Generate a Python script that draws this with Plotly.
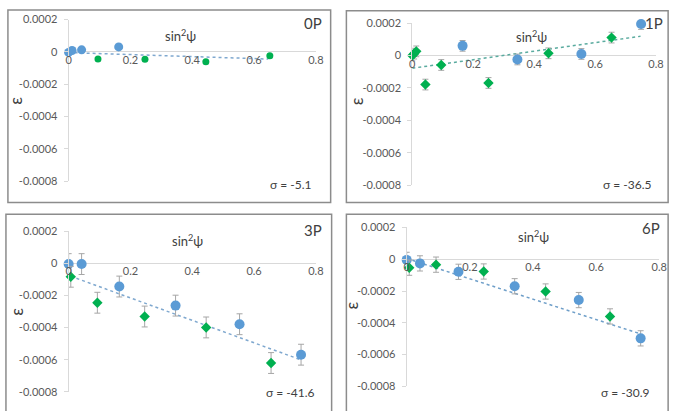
import plotly.graph_objects as go

W, H = 684, 411

# ---------------- data ----------------
panels = ["0P", "1P", "3P", "6P"]
sigma_labels = ["σ = -5.1", "σ = -36.5", "σ = -41.6", "σ = -30.9"]

blue_x_0P = [0, 0.011, 0.042, 0.162]
blue_y_0P = [-0.000003, 0.000009, 0.000013, 0.000031]
green_x_0P = [0.095, 0.247, 0.444, 0.651]
green_y_0P = [-0.000044, -0.000046, -0.00006, -0.000024]
err_0P = 0.0
trend_x_0P = [0, 0.646]
trend_y_0P = [-0.000004, -0.000044]

blue_x_1P = [0.165, 0.345, 0.555, 0.751]
blue_y_1P = [0.00006, -0.000024, 0.00001, 0.000195]
green_x_1P = [0, 0.006, 0.013, 0.043, 0.095, 0.25, 0.447, 0.654]
green_y_1P = [0, 0.000012, 0.000026, -0.000179, -0.000058, -0.000169, 0.000014, 0.000111]
err_1P = 0.000033
trend_x_1P = [0, 0.749]
trend_y_1P = [-0.000078, 0.000119]

blue_x_3P = [0, 0.042, 0.164, 0.346, 0.553, 0.752]
blue_y_3P = [-0.000004, -0.000004, -0.000144, -0.000263, -0.000379, -0.000569]
green_x_3P = [0.007, 0.093, 0.246, 0.445, 0.655]
green_y_3P = [-0.000083, -0.000245, -0.000331, -0.000399, -0.000621]
err_3P = 0.000065
trend_x_3P = [0.007, 0.75]
trend_y_3P = [-0.00008, -0.0006]

blue_x_6P = [0, 0.042, 0.164, 0.342, 0.545, 0.741]
blue_y_6P = [-0.000004, -0.000026, -0.000079, -0.00017, -0.000257, -0.000498]
green_x_6P = [0.008, 0.093, 0.244, 0.44, 0.644]
green_y_6P = [-0.000053, -0.000034, -0.000077, -0.000203, -0.00036]
err_6P = 0.000048
trend_x_6P = [0, 0.741]
trend_y_6P = [0.000005, -0.00047]

x_ticks = [0, 0.2, 0.4, 0.6, 0.8]
x_tick_text = ["0", "0.2", "0.4", "0.6", "0.8"]
y_ticks = [0.0002, 0, -0.0002, -0.0004, -0.0006, -0.0008]
y_tick_text = ["0.0002", "0", "-0.0002", "-0.0004", "-0.0006", "-0.0008"]

data = [
    (blue_x_0P, blue_y_0P, green_x_0P, green_y_0P, err_0P, trend_x_0P, trend_y_0P),
    (blue_x_1P, blue_y_1P, green_x_1P, green_y_1P, err_1P, trend_x_1P, trend_y_1P),
    (blue_x_3P, blue_y_3P, green_x_3P, green_y_3P, err_3P, trend_x_3P, trend_y_3P),
    (blue_x_6P, blue_y_6P, green_x_6P, green_y_6P, err_6P, trend_x_6P, trend_y_6P),
]

# ---------------- layout geometry (pixels) ----------------
geo = [
    (66.7, 318.0, 13.0, 180.0),
    (416.0, 663.7, 16.7, 184.0),
    (66.7, 318.0, 231.7, 397.3),
    (410.3, 667.0, 227.7, 391.7),
]
boxes = [(5, 3, 333, 202), (349, 4, 676, 202), (3, 214, 334, 420), (349, 214, 676, 420)]
title_pos = [(180, 29), (537, 30), (188, 241), (539, 237)]
label_pos = [(315, 17), (662, 17), (315, 230), (659, 228)]
sigma_pos = [(293, 183), (634, 183), (292, 398), (632, 398)]
eps_pos = [(13, 97), (360, 97), (13, 315), (354, 308)]
trend_colors = ["#7fa8cf", "#5aab9f", "#7fa8cf", "#6f9fc9"]

FONT = "Lato, 'Open Sans', sans-serif"
TXT = "#404040"
TICK = "#595959"


def px(x):
    return x / W


def py(y):
    return 1 - y / H


fig = go.Figure()
annotations = []
shapes = []


def ann(text, pos, size, angle=0):
    return dict(text=text, x=px(pos[0]), y=py(pos[1]), xref="paper", yref="paper",
                xanchor="center", yanchor="middle", showarrow=False, textangle=angle,
                font=dict(family=FONT, size=size, color=TXT))


for i, (bx, by, gx, gy, err, tx, ty) in enumerate(data):
    n = "" if i == 0 else str(i + 1)
    xa, ya = "x" + n, "y" + n
    x0, x1, yt, yb = geo[i]
    ymin, ymax = -0.0008, 0.0002
    zero_px = yt + (ymax - 0) / (ymax - ymin) * (yb - yt)

    fig.add_trace(go.Scatter(
        x=tx, y=ty, mode="lines", xaxis=xa, yaxis=ya, cliponaxis=False,
        line=dict(color=trend_colors[i], width=1.5, dash="dot"),
        hoverinfo="skip", showlegend=False))

    ey = dict(type="data", array=[err] * len(by), color="#a6a6a6",
              thickness=1, width=3, visible=err > 0)
    fig.add_trace(go.Scatter(
        x=bx, y=by, mode="markers", xaxis=xa, yaxis=ya, cliponaxis=False,
        marker=dict(color="#5B9BD5", size=10 if i else 9, symbol="circle"),
        error_y=ey, showlegend=False))
    eyg = dict(type="data", array=[err] * len(gy), color="#a6a6a6",
               thickness=1, width=3, visible=err > 0)
    fig.add_trace(go.Scatter(
        x=gx, y=gy, mode="markers", xaxis=xa, yaxis=ya, cliponaxis=False,
        marker=dict(color="#00B050", size=8 if i else 7,
                    symbol="diamond" if i else "circle"),
        error_y=eyg, showlegend=False))

    xkey = "xaxis" + n
    ykey = "yaxis" + n
    fig.layout[xkey] = dict(
        domain=[px(x0), px(x1)], range=[0, 0.8], anchor="free",
        position=py(zero_px), showline=False, showgrid=False, zeroline=False,
        tickvals=x_ticks, ticktext=x_tick_text, ticks="",
        ticklabelstandoff=0,
        tickfont=dict(family=FONT, size=11, color=TICK), fixedrange=True)
    fig.layout[ykey] = dict(
        domain=[py(yb), py(yt)], range=[ymin, ymax], anchor=xa,
        showline=True, linecolor="#d9d9d9", linewidth=1, showgrid=False,
        zeroline=True, zerolinecolor="#d9d9d9", zerolinewidth=1,
        tickvals=y_ticks, ticktext=y_tick_text, ticks="outside", ticklen=4,
        tickcolor="#d9d9d9", ticklabelstandoff=4,
        tickfont=dict(family=FONT, size=11, color=TICK), fixedrange=True)

    l, t, r, b = boxes[i]
    shapes.append(dict(type="rect", xref="paper", yref="paper",
                       x0=px(l), x1=px(r), y0=py(b), y1=py(t),
                       line=dict(color="#8c8c8c", width=1.5)))

    annotations.append(ann("sin<sup>2</sup>ψ", title_pos[i], 13))
    annotations.append(ann(panels[i], label_pos[i], 15))
    annotations.append(ann(sigma_labels[i], sigma_pos[i], 12))
    annotations.append(ann("ε", eps_pos[i], 17, -90))

fig.update_layout(
    width=W, height=H, margin=dict(l=0, r=0, t=0, b=0),
    paper_bgcolor="white", plot_bgcolor="rgba(0,0,0,0)",
    shapes=shapes, annotations=annotations, showlegend=False)

fig.write_html("out.html")
